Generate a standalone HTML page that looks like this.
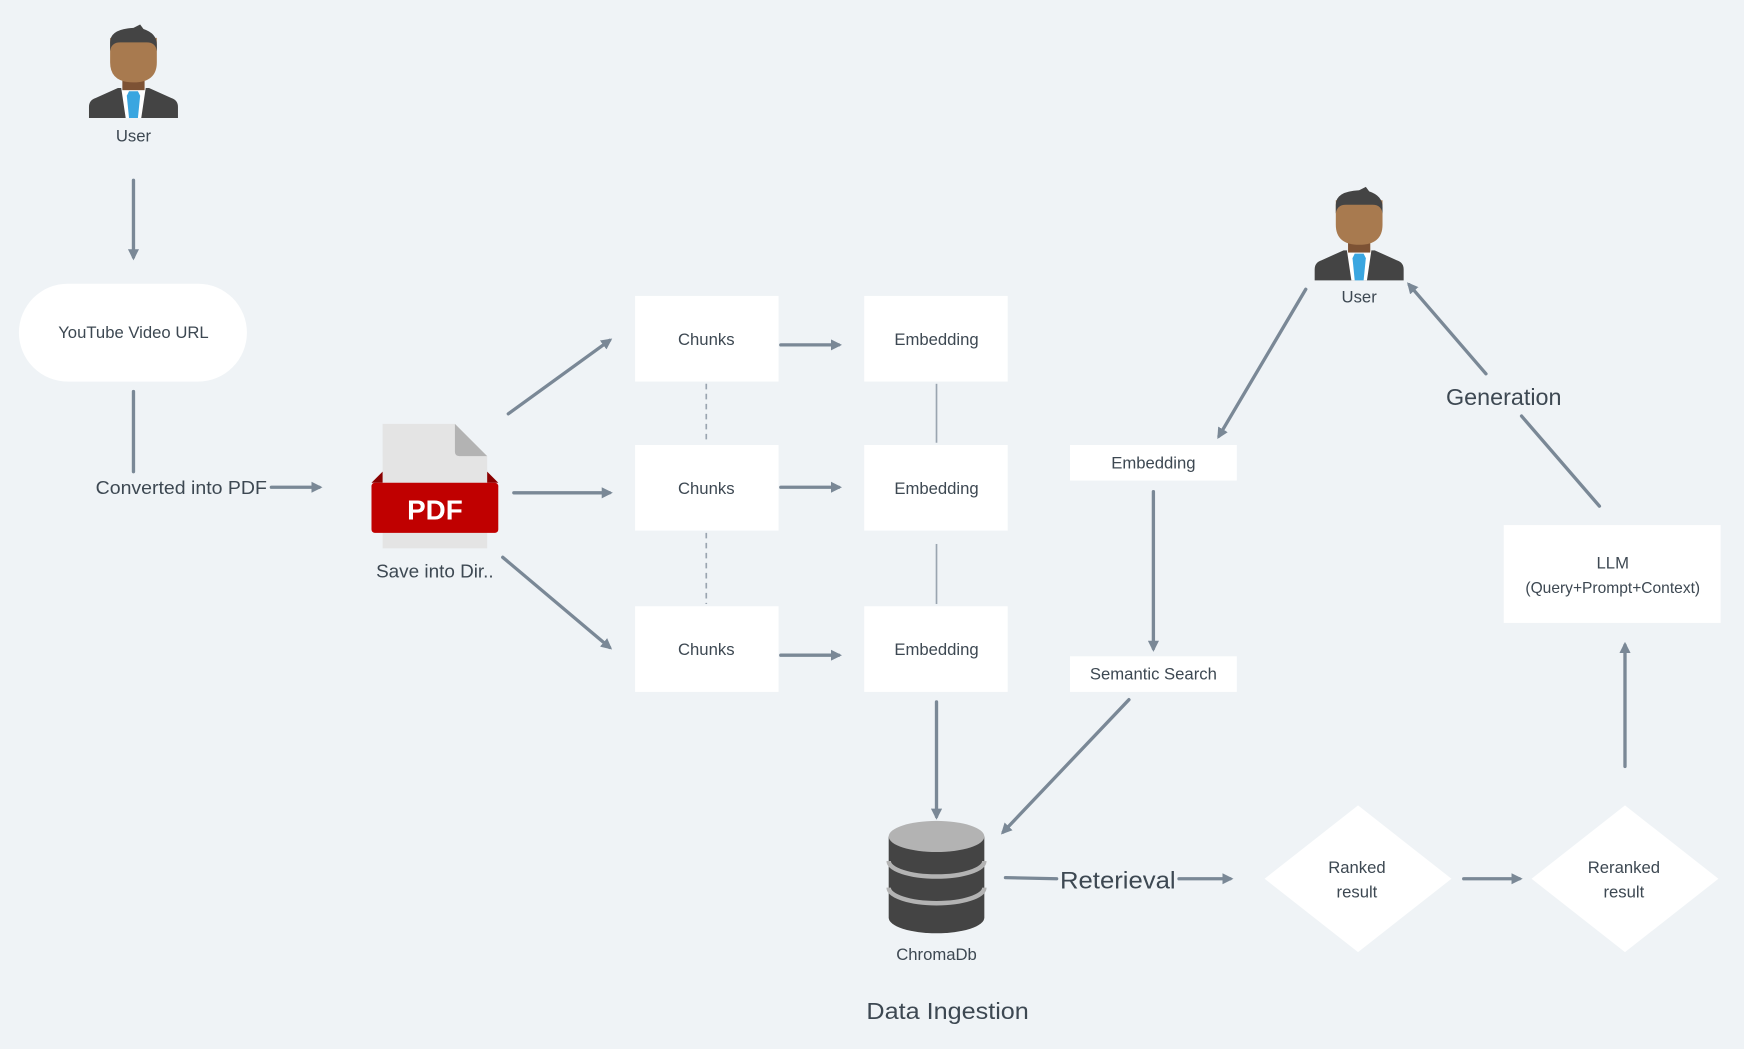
<!DOCTYPE html>
<html><head><meta charset="utf-8"><style>
html,body{margin:0;padding:0;background:#eff3f6;}
svg{display:block}
text{font-family:"Liberation Sans",sans-serif;fill:#3d4852;}
</style></head><body>
<svg width="1744" height="1049" viewBox="0 0 1568 943" xmlns="http://www.w3.org/2000/svg">
<defs>
<marker id="a" markerWidth="10" markerHeight="10" refX="7" refY="5" orient="auto" markerUnits="userSpaceOnUse">
<path d="M0,0 L10,5 L0,10 Z" fill="#7a8896"/></marker>
<g id="p">
<path d="M-40,84 L-40,74 Q-40,68 -34,66 L-14,57 L14,57 L34,66 Q40,68 40,74 L40,84 Z" fill="#444"/>
<polygon points="-11,57 11,57 7,84 -7,84" fill="#fff"/>
<polygon points="-4,60 4,60 6,64 4,84 -4,84 -6,64" fill="#3aa6e0"/>
<rect x="-10" y="44" width="20" height="15" fill="#7d5234"/>
<path d="M-21,12 L21,12 L21,34 Q21,52 0,52 Q-21,52 -21,34 Z" fill="#a87a4f"/>
<path d="M-21,24 L-21,16 Q-21,4 0,3 L6,0 L9,4 Q21,8 21,18 L21,24 Q20,16 12,16 L-12,16 Q-20,16 -21,24 Z" fill="#444"/>
</g>
</defs>
<rect width="1568" height="943" fill="#eff3f6"/>
<g stroke="#7a8896" stroke-width="3" fill="none" stroke-linecap="round">
<line x1="120" y1="162" x2="120" y2="231" marker-end="url(#a)"/>
<line x1="120" y1="352" x2="120" y2="424"/>
<line x1="244" y1="438" x2="287" y2="438" marker-end="url(#a)"/>
<line x1="457" y1="372" x2="548" y2="306" marker-end="url(#a)"/>
<line x1="462" y1="443" x2="548" y2="443" marker-end="url(#a)"/>
<line x1="452" y1="501" x2="548" y2="582" marker-end="url(#a)"/>
<line x1="702" y1="310" x2="754" y2="310" marker-end="url(#a)"/>
<line x1="702" y1="438" x2="754" y2="438" marker-end="url(#a)"/>
<line x1="702" y1="589" x2="754" y2="589" marker-end="url(#a)"/>
<line x1="842" y1="631" x2="842" y2="734" marker-end="url(#a)"/>
<line x1="1174" y1="260" x2="1096" y2="392" marker-end="url(#a)"/>
<line x1="1037" y1="442" x2="1037" y2="583" marker-end="url(#a)"/>
<line x1="1015" y1="629" x2="902" y2="748" marker-end="url(#a)"/>
<line x1="904" y1="789" x2="950" y2="790"/>
<line x1="1060" y1="790" x2="1106" y2="790" marker-end="url(#a)"/>
<line x1="1316" y1="790" x2="1366" y2="790" marker-end="url(#a)"/>
<line x1="1461" y1="689" x2="1461" y2="580" marker-end="url(#a)"/>
<line x1="1438" y1="455" x2="1368" y2="374"/>
<line x1="1336" y1="336" x2="1267" y2="256" marker-end="url(#a)"/>
</g>
<g stroke="#9aa5b0" stroke-width="1.5">
<line x1="635" y1="345" x2="635" y2="398" stroke-dasharray="5,4"/>
<line x1="635" y1="479" x2="635" y2="543" stroke-dasharray="5,4"/>
<line x1="842" y1="345" x2="842" y2="398"/>
<line x1="842" y1="489" x2="842" y2="543"/>
</g>
<use href="#p" x="120" y="22"/>
<text x="120" y="127" font-size="15" text-anchor="middle">User</text>
<use href="#p" x="1222" y="168"/>
<text x="1222" y="272" font-size="15" text-anchor="middle">User</text>
<rect x="17" y="255" width="205" height="88" rx="44" fill="#fff"/>
<text x="120" y="304" font-size="15" text-anchor="middle">YouTube Video URL</text>
<text x="163" y="444" font-size="17" text-anchor="middle" textLength="154" lengthAdjust="spacingAndGlyphs">Converted into PDF</text>
<path d="M344,381 L409,381 L438,410 L438,493 L344,493 Z" fill="#e4e4e4"/>
<path d="M409,381 L438,410 L413,410 Q409,410 409,406 Z" fill="#b3b3b3"/>
<path d="M334,434 L344,424 L344,434 Z M438,424 L448,434 L438,434 Z" fill="#8a0000"/>
<rect x="334" y="434" width="114" height="45" rx="3" fill="#c00000"/>
<text x="391" y="467" font-size="25" font-weight="bold" text-anchor="middle" style="fill:#fff">PDF</text>
<text x="391" y="519" font-size="17" text-anchor="middle">Save into Dir..</text>
<g fill="#fff">
<rect x="571" y="266" width="129" height="77"/>
<rect x="571" y="400" width="129" height="77"/>
<rect x="571" y="545" width="129" height="77"/>
<rect x="777" y="266" width="129" height="77"/>
<rect x="777" y="400" width="129" height="77"/>
<rect x="777" y="545" width="129" height="77"/>
<rect x="962" y="400" width="150" height="32"/>
<rect x="962" y="590" width="150" height="32"/>
<rect x="1352" y="472" width="195" height="88"/>
<polygon points="1221,724 1305,790 1221,856 1137,790"/>
<polygon points="1461,724 1545,790 1461,856 1377,790"/>
</g>
<g font-size="15" text-anchor="middle">
<text x="635" y="310">Chunks</text>
<text x="635" y="444">Chunks</text>
<text x="635" y="589">Chunks</text>
<text x="842" y="310">Embedding</text>
<text x="842" y="444">Embedding</text>
<text x="842" y="589">Embedding</text>
<text x="1037" y="421">Embedding</text>
<text x="1037" y="611">Semantic Search</text>
<text x="1450" y="511">LLM</text>
<text x="1450" y="533" font-size="14">(Query+Prompt+Context)</text>
<text x="1220" y="785">Ranked</text>
<text x="1220" y="807">result</text>
<text x="1460" y="785">Reranked</text>
<text x="1460" y="807">result</text>
<text x="842" y="863">ChromaDb</text>
</g>
<path d="M799,752 L799,825 A43,14 0 0 0 885,825 L885,752 Z" fill="#444"/>
<ellipse cx="842" cy="752" rx="43" ry="14" fill="#b3b3b3"/>
<path d="M799,774 A43,14 0 0 0 885,774" stroke="#b3b3b3" stroke-width="4" fill="none"/>
<path d="M799,798 A43,14 0 0 0 885,798" stroke="#b3b3b3" stroke-width="4" fill="none"/>
<text x="1005" y="799" font-size="22" text-anchor="middle" textLength="104" lengthAdjust="spacingAndGlyphs">Reterieval</text>
<text x="1352" y="364" font-size="21" text-anchor="middle">Generation</text>
<text x="852" y="916" font-size="21" text-anchor="middle" textLength="146" lengthAdjust="spacingAndGlyphs">Data Ingestion</text>
</svg>
</body></html>
